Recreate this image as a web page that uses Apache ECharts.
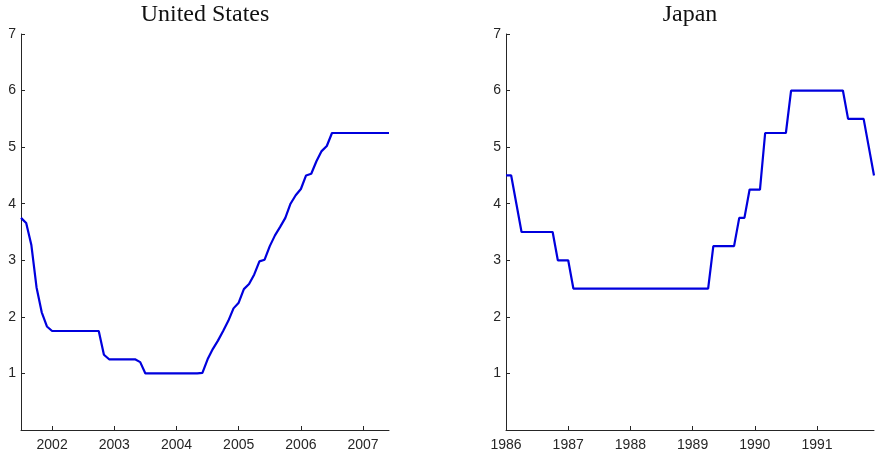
<!DOCTYPE html>
<html>
<head>
<meta charset="utf-8">
<script src="https://cdn.jsdelivr.net/npm/echarts@6/dist/echarts.min.js"></script>
<style>
  html, body { margin: 0; padding: 0; background: #ffffff; }
  #chart { width: 878px; height: 456px; }
</style>
</head>
<body>
<div id="chart"></div>
<script>
// Monthly policy rates (percent)
// United States: federal funds target, monthly, Jul 2001 – Jun 2007
const usStartYear = 2001, usStartMonth = 7;
const usRates = [
  3.75, 3.66, 3.27, 2.52, 2.08, 1.83,
  1.75, 1.75, 1.75, 1.75, 1.75, 1.75, 1.75, 1.75, 1.75, 1.75, 1.33, 1.25,
  1.25, 1.25, 1.25, 1.25, 1.25, 1.20, 1.00, 1.00, 1.00, 1.00, 1.00, 1.00,
  1.00, 1.00, 1.00, 1.00, 1.00, 1.01, 1.25, 1.43, 1.58, 1.75, 1.93, 2.15,
  2.25, 2.49, 2.58, 2.75, 2.98, 3.01, 3.25, 3.44, 3.59, 3.75, 4.00, 4.15,
  4.26, 4.50, 4.53, 4.75, 4.93, 5.02, 5.25, 5.25, 5.25, 5.25, 5.25, 5.25,
  5.25, 5.25, 5.25, 5.25, 5.25, 5.25
];
// Japan: official discount rate, monthly, Jan 1986 – Dec 1991
const jpStartYear = 1986, jpStartMonth = 1;
const jpRates = [
  4.50, 4.50, 4.00, 3.50, 3.50, 3.50, 3.50, 3.50, 3.50, 3.50, 3.00, 3.00,
  3.00, 2.50, 2.50, 2.50, 2.50, 2.50, 2.50, 2.50, 2.50, 2.50, 2.50, 2.50,
  2.50, 2.50, 2.50, 2.50, 2.50, 2.50, 2.50, 2.50, 2.50, 2.50, 2.50, 2.50,
  2.50, 2.50, 2.50, 2.50, 3.25, 3.25, 3.25, 3.25, 3.25, 3.75, 3.75, 4.25,
  4.25, 4.25, 5.25, 5.25, 5.25, 5.25, 5.25, 6.00, 6.00, 6.00, 6.00, 6.00,
  6.00, 6.00, 6.00, 6.00, 6.00, 6.00, 5.50, 5.50, 5.50, 5.50, 5.00, 4.50
];
const usYearTicks = [2002, 2003, 2004, 2005, 2006, 2007];
const jpYearTicks = [1986, 1987, 1988, 1989, 1990, 1991];
const rateTicks = [1, 2, 3, 4, 5, 6, 7];
const panelTitles = ['United States', 'Japan'];

// Convert a monthly series into [decimal year, value] pairs
function toPoints(startYear, startMonth, values) {
  return values.map((v, i) => [startYear + (startMonth - 1 + i) / 12, v]);
}
const usPoints = toPoints(usStartYear, usStartMonth, usRates);
const jpPoints = toPoints(jpStartYear, jpStartMonth, jpRates);

const axisColor = '#262626';
const labelFont = { color: axisColor, fontSize: 14, fontFamily: 'Liberation Sans, Arial, sans-serif' };

function xAxisFor(gridIndex, points, ticks) {
  return {
    type: 'value', gridIndex,
    min: points[0][0], max: points[points.length - 1][0],
    axisLine: { show: true, lineStyle: { color: axisColor, width: 1 } },
    axisTick: { show: true, inside: true, length: 4, customValues: ticks, lineStyle: { color: axisColor } },
    axisLabel: Object.assign({ margin: 8, customValues: ticks, formatter: v => String(Math.round(v)) }, labelFont),
    splitLine: { show: false }
  };
}
function yAxisFor(gridIndex) {
  return {
    type: 'value', gridIndex, min: 0, max: 7,
    axisLine: { show: true, onZero: false, lineStyle: { color: axisColor, width: 1 } },
    axisTick: { show: true, inside: true, length: 4, customValues: rateTicks, lineStyle: { color: axisColor } },
    axisLabel: Object.assign({ margin: 5, customValues: rateTicks }, labelFont),
    splitLine: { show: false }
  };
}

const chart = echarts.init(document.getElementById('chart'), null, { renderer: 'canvas' });
chart.setOption({
  backgroundColor: '#ffffff',
  animation: false,
  title: panelTitles.map((t, i) => ({
    text: t,
    left: i === 0 ? 205 : 690,
    top: 3,
    padding: 0,
    textAlign: 'center',
    textStyle: { fontFamily: 'Liberation Serif, Times New Roman, serif', fontWeight: 'normal', fontSize: 24, color: '#111111' }
  })),
  grid: [
    { left: 21, top: 34, width: 368, height: 396 },
    { left: 506, top: 34, width: 368, height: 396 }
  ],
  xAxis: [xAxisFor(0, usPoints, usYearTicks), xAxisFor(1, jpPoints, jpYearTicks)],
  yAxis: [yAxisFor(0), yAxisFor(1)],
  series: [
    { type: 'line', xAxisIndex: 0, yAxisIndex: 0, data: usPoints, showSymbol: false,
      lineStyle: { color: '#0000dd', width: 2.2 }, itemStyle: { color: '#0000dd' } },
    { type: 'line', xAxisIndex: 1, yAxisIndex: 1, data: jpPoints, showSymbol: false,
      lineStyle: { color: '#0000dd', width: 2.2 }, itemStyle: { color: '#0000dd' } }
  ]
});
</script>
</body>
</html>
